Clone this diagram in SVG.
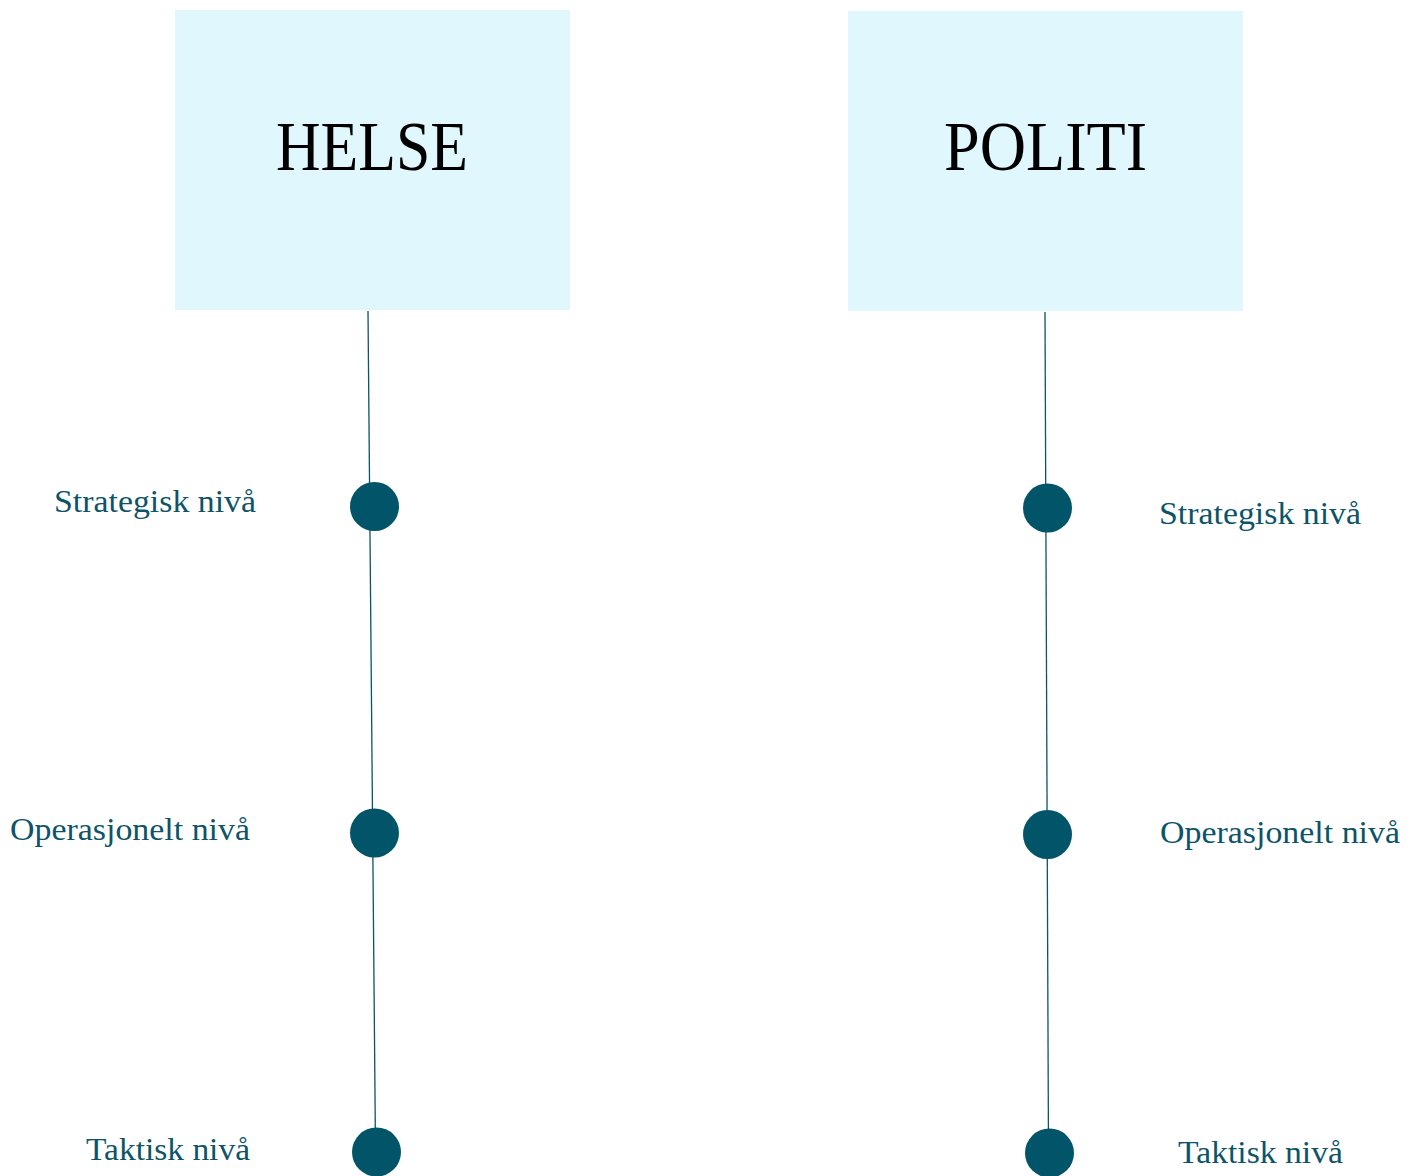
<svg xmlns="http://www.w3.org/2000/svg" width="1420" height="1176" viewBox="0 0 1420 1176">
<style>
.box{fill:#E0F7FE}
.title{font-family:"Liberation Serif","DejaVu Serif",serif;font-size:70px;fill:#000}
.lbl{font-family:"Liberation Serif","DejaVu Serif",serif;font-size:32px;fill:#0D5468}
.dot{fill:#025468}
.ln{stroke:#0D5468;stroke-width:1.3;fill:none}
</style>
<rect width="1420" height="1176" fill="#fff"/>
<g id="connectors">
<line class="ln" x1="368" y1="311" x2="375.5" y2="1150"/>
<line class="ln" x1="1045" y1="312" x2="1048.5" y2="1152"/>
</g>
<g id="helse">
<rect class="box" x="175" y="10" width="395" height="300"/>
<text class="title" x="276" y="170" textLength="192" lengthAdjust="spacingAndGlyphs">HELSE</text>
</g>
<g id="politi">
<rect class="box" x="848" y="11" width="395" height="300"/>
<text class="title" x="944" y="170" textLength="203" lengthAdjust="spacingAndGlyphs">POLITI</text>
</g>
<g id="helse-strategisk">
<circle class="dot" cx="374.5" cy="506.5" r="24.5"/>
<text class="lbl" x="54" y="512" textLength="202" lengthAdjust="spacingAndGlyphs">Strategisk nivå</text>
</g>
<g id="helse-operasjonelt">
<circle class="dot" cx="374.5" cy="833" r="24.5"/>
<text class="lbl" x="10" y="840" textLength="240" lengthAdjust="spacingAndGlyphs">Operasjonelt nivå</text>
</g>
<g id="helse-taktisk">
<circle class="dot" cx="376.5" cy="1152" r="24.5"/>
<text class="lbl" x="86" y="1160" textLength="164" lengthAdjust="spacingAndGlyphs">Taktisk nivå</text>
</g>
<g id="politi-strategisk">
<circle class="dot" cx="1047.5" cy="508" r="24.5"/>
<text class="lbl" x="1159" y="524" textLength="202" lengthAdjust="spacingAndGlyphs">Strategisk nivå</text>
</g>
<g id="politi-operasjonelt">
<circle class="dot" cx="1047.5" cy="834.5" r="24.5"/>
<text class="lbl" x="1160" y="843" textLength="240" lengthAdjust="spacingAndGlyphs">Operasjonelt nivå</text>
</g>
<g id="politi-taktisk">
<circle class="dot" cx="1049.5" cy="1153" r="24.5"/>
<text class="lbl" x="1178" y="1163" textLength="165" lengthAdjust="spacingAndGlyphs">Taktisk nivå</text>
</g>
</svg>
